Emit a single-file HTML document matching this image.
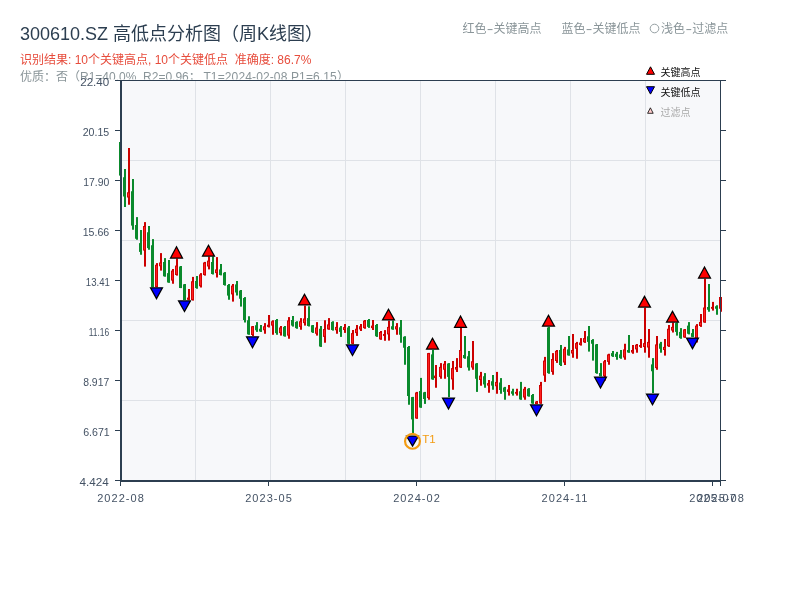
<!DOCTYPE html>
<html lang="zh"><head><meta charset="utf-8"><title>300610.SZ 高低点分析图</title>
<style>html,body{margin:0;padding:0;background:#fff;}body{width:800px;height:600px;overflow:hidden;}svg{display:block;will-change:transform;}text{font-family:"Liberation Sans","Noto Sans CJK SC",sans-serif;}</style></head><body>
<svg width="800" height="600" viewBox="0 0 800 600">
<rect width="800" height="600" fill="#ffffff"/>
<text x="20" y="40" font-size="18" fill="#2c3e50">300610.SZ 高低点分析图（周K线图）</text>
<text x="20" y="63.5" font-size="12" fill="#e74c3c" style="white-space:pre">识别结果: 10个关键高点, 10个关键低点  准确度: 86.7%</text>
<text x="20" y="80.8" font-size="12" fill="#8a9599" style="white-space:pre"><tspan x="20">优质：否（R1=40.0%  R2=0.96；</tspan><tspan x="203.4" letter-spacing="0.13">T1=2024-02-08 P1=6.15）</tspan></text>
<g font-size="12" fill="#8a9599"><text y="33"><tspan x="462.4">红色</tspan><tspan x="486.8" textLength="6.6" lengthAdjust="spacingAndGlyphs">-</tspan><tspan x="493.6">关键高点</tspan></text><text y="33"><tspan x="561.4">蓝色</tspan><tspan x="585.8" textLength="6.6" lengthAdjust="spacingAndGlyphs">-</tspan><tspan x="592.6">关键低点</tspan></text><text y="33"><tspan x="661">浅色</tspan><tspan x="685.4" textLength="6.6" lengthAdjust="spacingAndGlyphs">-</tspan><tspan x="692.2">过滤点</tspan></text></g>
<circle cx="654.5" cy="28.5" r="4.3" fill="none" stroke="#8a9599" stroke-width="0.9"/>
<rect x="80" y="79.4" width="720" height="520.6" fill="#ffffff"/>
<rect x="121" y="81" width="600" height="400" fill="#f7f8fa"/>
<rect x="195" y="81" width="1" height="400" fill="#dfe2e7"/>
<rect x="270" y="81" width="1" height="400" fill="#dfe2e7"/>
<rect x="345" y="81" width="1" height="400" fill="#dfe2e7"/>
<rect x="420" y="81" width="1" height="400" fill="#dfe2e7"/>
<rect x="495" y="81" width="1" height="400" fill="#dfe2e7"/>
<rect x="570" y="81" width="1" height="400" fill="#dfe2e7"/>
<rect x="645" y="81" width="1" height="400" fill="#dfe2e7"/>
<rect x="121" y="160" width="600" height="1" fill="#dfe2e7"/>
<rect x="121" y="240" width="600" height="1" fill="#dfe2e7"/>
<rect x="121" y="320" width="600" height="1" fill="#dfe2e7"/>
<rect x="121" y="400" width="600" height="1" fill="#dfe2e7"/>
<rect x="120.0" y="142.00" width="2" height="33.60" fill="#0a8a2c"/><rect x="119.0" y="142.00" width="3" height="33.60" fill="#0a8a2c"/>
<g shape-rendering="auto">
<rect x="124.0" y="169.00" width="2" height="38.00" fill="#0a8a2c"/><rect x="123.0" y="177.25" width="3" height="19.25" fill="#0a8a2c"/>
<rect x="128.0" y="148.00" width="2" height="56.75" fill="#cc0000"/><rect x="127.0" y="192.25" width="3" height="5.25" fill="#cc0000"/><rect x="127.9" y="193.25" width="1.2" height="3.25" fill="#ff2020"/>
<rect x="132.0" y="179.00" width="2" height="50.75" fill="#0a8a2c"/><rect x="131.0" y="191.25" width="3" height="34.35" fill="#0a8a2c"/>
<rect x="136.0" y="217.10" width="2" height="22.65" fill="#0a8a2c"/><rect x="135.0" y="225.00" width="3" height="13.75" fill="#0a8a2c"/>
<rect x="140.0" y="230.00" width="2" height="24.75" fill="#0a8a2c"/><rect x="139.0" y="243.10" width="3" height="8.80" fill="#0a8a2c"/>
<rect x="144.0" y="222.10" width="2" height="44.50" fill="#cc0000"/><rect x="143.0" y="226.00" width="3" height="24.60" fill="#cc0000"/><rect x="143.9" y="227.00" width="1.2" height="22.60" fill="#ff2020"/>
<rect x="148.0" y="226.00" width="2" height="23.75" fill="#0a8a2c"/><rect x="147.0" y="232.25" width="3" height="15.85" fill="#0a8a2c"/>
<rect x="152.0" y="239.10" width="2" height="48.15" fill="#0a8a2c"/><rect x="151.0" y="245.25" width="3" height="41.75" fill="#0a8a2c"/>
<rect x="156.0" y="263.10" width="2" height="24.15" fill="#cc0000"/><rect x="155.0" y="264.75" width="3" height="22.25" fill="#cc0000"/><rect x="155.9" y="265.75" width="1.2" height="20.25" fill="#ff2020"/>
<rect x="160.0" y="253.10" width="2" height="17.50" fill="#cc0000"/><rect x="159.0" y="262.50" width="3" height="3.75" fill="#cc0000"/><rect x="159.9" y="263.50" width="1.2" height="1.75" fill="#ff2020"/>
<rect x="164.0" y="258.10" width="2" height="18.50" fill="#0a8a2c"/><rect x="163.0" y="262.00" width="3" height="14.30" fill="#0a8a2c"/>
<rect x="168.0" y="260.00" width="2" height="22.75" fill="#0a8a2c"/><rect x="167.0" y="273.10" width="3" height="9.40" fill="#0a8a2c"/>
<rect x="172.0" y="269.00" width="2" height="14.75" fill="#cc0000"/><rect x="171.0" y="270.60" width="3" height="10.00" fill="#cc0000"/><rect x="171.9" y="271.60" width="1.2" height="8.00" fill="#ff2020"/>
<rect x="176.0" y="258.50" width="2" height="17.10" fill="#cc0000"/><rect x="175.0" y="265.60" width="3" height="9.40" fill="#cc0000"/><rect x="175.9" y="266.60" width="1.2" height="7.40" fill="#ff2020"/>
<rect x="180.0" y="266.00" width="2" height="22.10" fill="#0a8a2c"/><rect x="179.0" y="266.50" width="3" height="21.50" fill="#0a8a2c"/>
<rect x="184.0" y="284.00" width="2" height="16.00" fill="#0a8a2c"/><rect x="183.0" y="284.30" width="3" height="15.70" fill="#0a8a2c"/>
<rect x="188.0" y="289.00" width="2" height="11.20" fill="#cc0000"/><rect x="187.0" y="297.60" width="3" height="2.20" fill="#cc0000"/>
<rect x="192.0" y="276.90" width="2" height="23.70" fill="#cc0000"/><rect x="191.0" y="281.25" width="3" height="18.75" fill="#cc0000"/><rect x="191.9" y="282.25" width="1.2" height="16.75" fill="#ff2020"/>
<rect x="196.0" y="276.00" width="2" height="12.75" fill="#0a8a2c"/><rect x="195.0" y="281.00" width="3" height="7.00" fill="#0a8a2c"/>
<rect x="200.0" y="273.10" width="2" height="14.40" fill="#cc0000"/><rect x="199.0" y="274.40" width="3" height="11.85" fill="#cc0000"/><rect x="199.9" y="275.40" width="1.2" height="9.85" fill="#ff2020"/>
<rect x="204.0" y="261.90" width="2" height="13.70" fill="#cc0000"/><rect x="203.0" y="262.50" width="3" height="12.50" fill="#cc0000"/><rect x="203.9" y="263.50" width="1.2" height="10.50" fill="#ff2020"/>
<rect x="208.0" y="256.50" width="2" height="12.90" fill="#cc0000"/><rect x="207.0" y="260.60" width="3" height="5.90" fill="#cc0000"/><rect x="207.9" y="261.60" width="1.2" height="3.90" fill="#ff2020"/>
<rect x="212.0" y="256.50" width="2" height="18.00" fill="#0a8a2c"/><rect x="211.0" y="262.00" width="3" height="12.00" fill="#0a8a2c"/>
<rect x="216.0" y="257.10" width="2" height="20.40" fill="#cc0000"/><rect x="215.0" y="269.40" width="3" height="3.70" fill="#cc0000"/><rect x="215.9" y="270.40" width="1.2" height="1.70" fill="#ff2020"/>
<rect x="220.0" y="264.00" width="2" height="11.40" fill="#0a8a2c"/><rect x="219.0" y="269.40" width="3" height="5.60" fill="#0a8a2c"/>
<rect x="224.0" y="272.10" width="2" height="13.50" fill="#0a8a2c"/><rect x="223.0" y="272.75" width="3" height="12.25" fill="#0a8a2c"/>
<rect x="228.0" y="284.00" width="2" height="15.75" fill="#0a8a2c"/><rect x="227.0" y="285.00" width="3" height="10.60" fill="#0a8a2c"/>
<rect x="232.0" y="284.00" width="2" height="17.60" fill="#cc0000"/><rect x="231.0" y="285.60" width="3" height="8.80" fill="#cc0000"/><rect x="231.9" y="286.60" width="1.2" height="6.80" fill="#ff2020"/>
<rect x="236.0" y="281.00" width="2" height="14.50" fill="#0a8a2c"/><rect x="235.0" y="284.40" width="3" height="8.10" fill="#0a8a2c"/>
<rect x="240.0" y="290.00" width="2" height="16.60" fill="#0a8a2c"/><rect x="239.0" y="290.60" width="3" height="8.15" fill="#0a8a2c"/>
<rect x="244.0" y="297.10" width="2" height="25.40" fill="#0a8a2c"/><rect x="243.0" y="298.00" width="3" height="22.00" fill="#0a8a2c"/>
<rect x="248.0" y="316.25" width="2" height="18.50" fill="#0a8a2c"/><rect x="247.0" y="320.25" width="3" height="14.15" fill="#0a8a2c"/>
<rect x="252.0" y="326.00" width="2" height="10.00" fill="#cc0000"/><rect x="251.0" y="326.25" width="3" height="8.75" fill="#cc0000"/><rect x="251.9" y="327.25" width="1.2" height="6.75" fill="#ff2020"/>
<rect x="256.0" y="322.10" width="2" height="9.80" fill="#0a8a2c"/><rect x="255.0" y="325.25" width="3" height="5.00" fill="#0a8a2c"/>
<rect x="260.0" y="325.00" width="2" height="6.90" fill="#0a8a2c"/><rect x="259.0" y="328.75" width="3" height="2.75" fill="#0a8a2c"/>
<rect x="264.0" y="323.10" width="2" height="10.65" fill="#cc0000"/><rect x="263.0" y="326.25" width="3" height="4.00" fill="#cc0000"/><rect x="263.9" y="327.25" width="1.2" height="2.00" fill="#ff2020"/>
<rect x="268.0" y="315.00" width="2" height="12.50" fill="#cc0000"/><rect x="267.0" y="324.75" width="3" height="2.15" fill="#cc0000"/>
<rect x="272.0" y="320.25" width="2" height="14.50" fill="#cc0000"/><rect x="271.0" y="321.25" width="3" height="4.35" fill="#cc0000"/><rect x="271.9" y="322.25" width="1.2" height="2.35" fill="#ff2020"/>
<rect x="276.0" y="319.00" width="2" height="15.75" fill="#0a8a2c"/><rect x="275.0" y="320.00" width="3" height="13.10" fill="#0a8a2c"/>
<rect x="280.0" y="326.00" width="2" height="9.60" fill="#cc0000"/><rect x="279.0" y="327.50" width="3" height="5.60" fill="#cc0000"/><rect x="279.9" y="328.50" width="1.2" height="3.60" fill="#ff2020"/>
<rect x="284.0" y="326.00" width="2" height="10.60" fill="#0a8a2c"/><rect x="283.0" y="326.90" width="3" height="9.35" fill="#0a8a2c"/>
<rect x="288.0" y="317.10" width="2" height="21.65" fill="#cc0000"/><rect x="287.0" y="320.40" width="3" height="15.20" fill="#cc0000"/><rect x="287.9" y="321.40" width="1.2" height="13.20" fill="#ff2020"/>
<rect x="292.0" y="316.00" width="2" height="10.60" fill="#0a8a2c"/><rect x="291.0" y="320.00" width="3" height="5.60" fill="#0a8a2c"/>
<rect x="296.0" y="321.25" width="2" height="7.50" fill="#0a8a2c"/><rect x="295.0" y="321.90" width="3" height="6.20" fill="#0a8a2c"/>
<rect x="300.0" y="318.10" width="2" height="11.65" fill="#cc0000"/><rect x="299.0" y="321.25" width="3" height="5.65" fill="#cc0000"/><rect x="299.9" y="322.25" width="1.2" height="3.65" fill="#ff2020"/>
<rect x="304.0" y="305.60" width="2" height="20.00" fill="#cc0000"/><rect x="303.0" y="318.50" width="3" height="4.60" fill="#cc0000"/><rect x="303.9" y="319.50" width="1.2" height="2.60" fill="#ff2020"/>
<rect x="308.0" y="306.25" width="2" height="20.25" fill="#0a8a2c"/><rect x="307.0" y="318.10" width="3" height="7.90" fill="#0a8a2c"/>
<rect x="312.0" y="325.00" width="2" height="7.90" fill="#0a8a2c"/><rect x="311.0" y="325.25" width="3" height="7.00" fill="#0a8a2c"/>
<rect x="316.0" y="322.10" width="2" height="13.50" fill="#cc0000"/><rect x="315.0" y="327.50" width="3" height="6.25" fill="#cc0000"/><rect x="315.9" y="328.50" width="1.2" height="4.25" fill="#ff2020"/>
<rect x="320.0" y="326.00" width="2" height="20.90" fill="#0a8a2c"/><rect x="319.0" y="328.75" width="3" height="17.75" fill="#0a8a2c"/>
<rect x="324.0" y="320.25" width="2" height="22.50" fill="#cc0000"/><rect x="323.0" y="329.00" width="3" height="7.90" fill="#cc0000"/><rect x="323.9" y="330.00" width="1.2" height="5.90" fill="#ff2020"/>
<rect x="328.0" y="318.10" width="2" height="11.65" fill="#cc0000"/><rect x="327.0" y="324.40" width="3" height="5.00" fill="#cc0000"/><rect x="327.9" y="325.40" width="1.2" height="3.00" fill="#ff2020"/>
<rect x="332.0" y="321.25" width="2" height="9.35" fill="#0a8a2c"/><rect x="331.0" y="321.90" width="3" height="8.10" fill="#0a8a2c"/>
<rect x="336.0" y="322.10" width="2" height="11.65" fill="#cc0000"/><rect x="335.0" y="326.90" width="3" height="3.35" fill="#cc0000"/><rect x="335.9" y="327.90" width="1.2" height="1.35" fill="#ff2020"/>
<rect x="340.0" y="326.00" width="2" height="10.90" fill="#0a8a2c"/><rect x="339.0" y="327.50" width="3" height="4.40" fill="#0a8a2c"/>
<rect x="344.0" y="324.00" width="2" height="8.90" fill="#cc0000"/><rect x="343.0" y="327.10" width="3" height="2.90" fill="#cc0000"/><rect x="343.9" y="328.10" width="1.2" height="0.90" fill="#ff2020"/>
<rect x="348.0" y="326.00" width="2" height="18.00" fill="#0a8a2c"/><rect x="347.0" y="327.50" width="3" height="16.25" fill="#0a8a2c"/>
<rect x="352.0" y="330.00" width="2" height="14.00" fill="#cc0000"/><rect x="351.0" y="333.10" width="3" height="10.65" fill="#cc0000"/><rect x="351.9" y="334.10" width="1.2" height="8.65" fill="#ff2020"/>
<rect x="356.0" y="325.00" width="2" height="10.90" fill="#cc0000"/><rect x="355.0" y="328.75" width="3" height="4.35" fill="#cc0000"/><rect x="355.9" y="329.75" width="1.2" height="2.35" fill="#ff2020"/>
<rect x="360.0" y="324.00" width="2" height="7.00" fill="#cc0000"/><rect x="359.0" y="326.25" width="3" height="3.15" fill="#cc0000"/><rect x="359.9" y="327.25" width="1.2" height="1.15" fill="#ff2020"/>
<rect x="364.0" y="320.00" width="2" height="8.75" fill="#cc0000"/><rect x="363.0" y="320.60" width="3" height="7.50" fill="#cc0000"/><rect x="363.9" y="321.60" width="1.2" height="5.50" fill="#ff2020"/>
<rect x="368.0" y="319.00" width="2" height="8.90" fill="#0a8a2c"/><rect x="367.0" y="320.00" width="3" height="6.90" fill="#0a8a2c"/>
<rect x="372.0" y="320.00" width="2" height="10.00" fill="#cc0000"/><rect x="371.0" y="325.60" width="3" height="2.50" fill="#cc0000"/><rect x="371.9" y="326.60" width="1.2" height="0.50" fill="#ff2020"/>
<rect x="376.0" y="324.00" width="2" height="12.90" fill="#0a8a2c"/><rect x="375.0" y="325.00" width="3" height="11.25" fill="#0a8a2c"/>
<rect x="380.0" y="331.00" width="2" height="8.75" fill="#cc0000"/><rect x="379.0" y="332.00" width="3" height="7.40" fill="#cc0000"/><rect x="379.9" y="333.00" width="1.2" height="5.40" fill="#ff2020"/>
<rect x="384.0" y="330.10" width="2" height="10.65" fill="#cc0000"/><rect x="383.0" y="334.00" width="3" height="1.90" fill="#cc0000"/>
<rect x="388.0" y="320.60" width="2" height="20.00" fill="#cc0000"/><rect x="387.0" y="326.90" width="3" height="7.50" fill="#cc0000"/><rect x="387.9" y="327.90" width="1.2" height="5.50" fill="#ff2020"/>
<rect x="392.0" y="320.60" width="2" height="9.15" fill="#0a8a2c"/><rect x="391.0" y="326.25" width="3" height="3.15" fill="#0a8a2c"/>
<rect x="396.0" y="323.10" width="2" height="11.65" fill="#cc0000"/><rect x="395.0" y="326.25" width="3" height="3.15" fill="#cc0000"/><rect x="395.9" y="327.25" width="1.2" height="1.15" fill="#ff2020"/>
<rect x="400.0" y="320.00" width="2" height="22.75" fill="#0a8a2c"/><rect x="399.0" y="327.25" width="3" height="7.50" fill="#0a8a2c"/>
<rect x="404.0" y="336.25" width="2" height="28.50" fill="#0a8a2c"/><rect x="403.0" y="336.75" width="3" height="11.00" fill="#0a8a2c"/>
<rect x="408.0" y="346.00" width="2" height="58.75" fill="#0a8a2c"/><rect x="407.0" y="347.00" width="3" height="49.00" fill="#0a8a2c"/>
<rect x="412.0" y="396.90" width="2" height="37.10" fill="#0a8a2c"/><rect x="411.0" y="397.10" width="3" height="22.30" fill="#0a8a2c"/>
<rect x="416.0" y="391.90" width="2" height="26.85" fill="#cc0000"/><rect x="415.0" y="392.50" width="3" height="26.00" fill="#cc0000"/><rect x="415.9" y="393.50" width="1.2" height="24.00" fill="#ff2020"/>
<rect x="420.0" y="377.90" width="2" height="29.85" fill="#0a8a2c"/><rect x="419.0" y="391.00" width="3" height="16.50" fill="#0a8a2c"/>
<rect x="424.0" y="391.90" width="2" height="12.00" fill="#0a8a2c"/><rect x="423.0" y="392.30" width="3" height="6.70" fill="#0a8a2c"/>
<rect x="428.0" y="352.90" width="2" height="46.85" fill="#cc0000"/><rect x="427.0" y="353.10" width="3" height="45.00" fill="#cc0000"/><rect x="427.9" y="354.10" width="1.2" height="43.00" fill="#ff2020"/>
<rect x="432.0" y="350.00" width="2" height="29.75" fill="#0a8a2c"/><rect x="431.0" y="354.40" width="3" height="25.00" fill="#0a8a2c"/>
<rect x="435.0" y="365.00" width="2" height="22.75" fill="#cc0000"/><rect x="434.0" y="375.60" width="3" height="2.50" fill="#cc0000"/><rect x="434.9" y="376.60" width="1.2" height="0.50" fill="#ff2020"/>
<rect x="440.0" y="363.10" width="2" height="15.65" fill="#cc0000"/><rect x="439.0" y="366.90" width="3" height="10.00" fill="#cc0000"/><rect x="439.9" y="367.90" width="1.2" height="8.00" fill="#ff2020"/>
<rect x="444.0" y="361.00" width="2" height="17.75" fill="#cc0000"/><rect x="443.0" y="363.75" width="3" height="6.00" fill="#cc0000"/><rect x="443.9" y="364.75" width="1.2" height="4.00" fill="#ff2020"/>
<rect x="448.0" y="363.10" width="2" height="34.00" fill="#0a8a2c"/><rect x="447.0" y="363.50" width="3" height="13.40" fill="#0a8a2c"/>
<rect x="452.0" y="361.00" width="2" height="28.75" fill="#cc0000"/><rect x="451.0" y="368.10" width="3" height="11.30" fill="#cc0000"/><rect x="451.9" y="369.10" width="1.2" height="9.30" fill="#ff2020"/>
<rect x="456.0" y="358.10" width="2" height="13.90" fill="#cc0000"/><rect x="455.0" y="367.00" width="3" height="2.60" fill="#cc0000"/><rect x="455.9" y="368.00" width="1.2" height="0.60" fill="#ff2020"/>
<rect x="460.0" y="327.75" width="2" height="40.15" fill="#cc0000"/><rect x="459.0" y="350.00" width="3" height="17.50" fill="#cc0000"/><rect x="459.9" y="351.00" width="1.2" height="15.50" fill="#ff2020"/>
<rect x="464.0" y="336.00" width="2" height="22.75" fill="#0a8a2c"/><rect x="463.0" y="355.00" width="3" height="3.10" fill="#0a8a2c"/>
<rect x="468.0" y="351.00" width="2" height="19.60" fill="#0a8a2c"/><rect x="467.0" y="356.25" width="3" height="11.25" fill="#0a8a2c"/>
<rect x="472.0" y="341.00" width="2" height="28.75" fill="#cc0000"/><rect x="471.0" y="361.25" width="3" height="6.25" fill="#cc0000"/><rect x="471.9" y="362.25" width="1.2" height="4.25" fill="#ff2020"/>
<rect x="476.0" y="363.10" width="2" height="28.80" fill="#0a8a2c"/><rect x="475.0" y="363.50" width="3" height="15.25" fill="#0a8a2c"/>
<rect x="480.0" y="371.90" width="2" height="13.85" fill="#cc0000"/><rect x="479.0" y="375.60" width="3" height="4.40" fill="#cc0000"/><rect x="479.9" y="376.60" width="1.2" height="2.40" fill="#ff2020"/>
<rect x="484.0" y="373.10" width="2" height="14.65" fill="#0a8a2c"/><rect x="483.0" y="376.25" width="3" height="8.15" fill="#0a8a2c"/>
<rect x="488.0" y="380.00" width="2" height="12.75" fill="#cc0000"/><rect x="487.0" y="383.10" width="3" height="2.50" fill="#cc0000"/><rect x="487.9" y="384.10" width="1.2" height="0.50" fill="#ff2020"/>
<rect x="492.0" y="375.00" width="2" height="14.75" fill="#0a8a2c"/><rect x="491.0" y="381.25" width="3" height="4.35" fill="#0a8a2c"/>
<rect x="496.0" y="371.90" width="2" height="21.85" fill="#cc0000"/><rect x="495.0" y="381.90" width="3" height="4.35" fill="#cc0000"/><rect x="495.9" y="382.90" width="1.2" height="2.35" fill="#ff2020"/>
<rect x="500.0" y="378.10" width="2" height="15.65" fill="#0a8a2c"/><rect x="499.0" y="382.50" width="3" height="7.50" fill="#0a8a2c"/>
<rect x="504.0" y="386.90" width="2" height="12.85" fill="#0a8a2c"/><rect x="503.0" y="387.50" width="3" height="4.40" fill="#0a8a2c"/>
<rect x="508.0" y="385.00" width="2" height="10.60" fill="#cc0000"/><rect x="507.0" y="389.40" width="3" height="2.50" fill="#cc0000"/><rect x="507.9" y="390.40" width="1.2" height="0.50" fill="#ff2020"/>
<rect x="512.0" y="388.75" width="2" height="6.85" fill="#0a8a2c"/><rect x="511.0" y="391.25" width="3" height="2.50" fill="#0a8a2c"/>
<rect x="516.0" y="388.75" width="2" height="6.85" fill="#cc0000"/><rect x="515.0" y="391.90" width="3" height="1.85" fill="#cc0000"/>
<rect x="520.0" y="381.90" width="2" height="17.85" fill="#0a8a2c"/><rect x="519.0" y="391.25" width="3" height="8.15" fill="#0a8a2c"/>
<rect x="524.0" y="386.90" width="2" height="12.85" fill="#cc0000"/><rect x="523.0" y="388.75" width="3" height="8.75" fill="#cc0000"/><rect x="523.9" y="389.75" width="1.2" height="6.75" fill="#ff2020"/>
<rect x="528.0" y="388.10" width="2" height="8.50" fill="#0a8a2c"/><rect x="527.0" y="388.75" width="3" height="7.50" fill="#0a8a2c"/>
<rect x="532.0" y="394.00" width="2" height="9.75" fill="#0a8a2c"/><rect x="531.0" y="395.00" width="3" height="8.50" fill="#0a8a2c"/>
<rect x="536.0" y="401.00" width="2" height="3.00" fill="#cc0000"/><rect x="535.0" y="401.50" width="3" height="2.50" fill="#cc0000"/><rect x="535.9" y="402.50" width="1.2" height="0.50" fill="#ff2020"/>
<rect x="540.0" y="381.90" width="2" height="21.85" fill="#cc0000"/><rect x="539.0" y="385.00" width="3" height="18.50" fill="#cc0000"/><rect x="539.9" y="386.00" width="1.2" height="16.50" fill="#ff2020"/>
<rect x="544.0" y="356.90" width="2" height="25.00" fill="#cc0000"/><rect x="543.0" y="360.60" width="3" height="15.00" fill="#cc0000"/><rect x="543.9" y="361.60" width="1.2" height="13.00" fill="#ff2020"/>
<rect x="548.0" y="326.90" width="2" height="46.85" fill="#0a8a2c"/><rect x="547.0" y="327.50" width="3" height="45.60" fill="#0a8a2c"/>
<rect x="552.0" y="353.10" width="2" height="21.65" fill="#cc0000"/><rect x="551.0" y="359.00" width="3" height="12.90" fill="#cc0000"/><rect x="551.9" y="360.00" width="1.2" height="10.90" fill="#ff2020"/>
<rect x="556.0" y="350.00" width="2" height="12.90" fill="#cc0000"/><rect x="555.0" y="350.80" width="3" height="10.20" fill="#cc0000"/><rect x="555.9" y="351.80" width="1.2" height="8.20" fill="#ff2020"/>
<rect x="560.0" y="345.00" width="2" height="21.00" fill="#0a8a2c"/><rect x="559.0" y="350.00" width="3" height="15.00" fill="#0a8a2c"/>
<rect x="564.0" y="346.90" width="2" height="18.10" fill="#cc0000"/><rect x="563.0" y="348.75" width="3" height="13.75" fill="#cc0000"/><rect x="563.9" y="349.75" width="1.2" height="11.75" fill="#ff2020"/>
<rect x="568.0" y="336.00" width="2" height="19.60" fill="#0a8a2c"/><rect x="567.0" y="349.40" width="3" height="6.00" fill="#0a8a2c"/>
<rect x="572.0" y="334.00" width="2" height="23.75" fill="#cc0000"/><rect x="571.0" y="350.00" width="3" height="3.50" fill="#cc0000"/><rect x="571.9" y="351.00" width="1.2" height="1.50" fill="#ff2020"/>
<rect x="576.0" y="341.90" width="2" height="16.85" fill="#cc0000"/><rect x="575.0" y="343.10" width="3" height="5.65" fill="#cc0000"/><rect x="575.9" y="344.10" width="1.2" height="3.65" fill="#ff2020"/>
<rect x="580.0" y="338.10" width="2" height="7.50" fill="#cc0000"/><rect x="579.0" y="342.50" width="3" height="2.50" fill="#cc0000"/><rect x="579.9" y="343.50" width="1.2" height="0.50" fill="#ff2020"/>
<rect x="584.0" y="331.00" width="2" height="11.90" fill="#cc0000"/><rect x="583.0" y="338.10" width="3" height="4.15" fill="#cc0000"/><rect x="583.9" y="339.10" width="1.2" height="2.15" fill="#ff2020"/>
<rect x="588.0" y="326.00" width="2" height="25.60" fill="#0a8a2c"/><rect x="587.0" y="336.25" width="3" height="5.65" fill="#0a8a2c"/>
<rect x="592.0" y="339.10" width="2" height="21.50" fill="#0a8a2c"/><rect x="591.0" y="340.00" width="3" height="3.75" fill="#0a8a2c"/>
<rect x="596.0" y="344.00" width="2" height="29.75" fill="#0a8a2c"/><rect x="595.0" y="344.40" width="3" height="28.70" fill="#0a8a2c"/>
<rect x="600.0" y="363.10" width="2" height="13.15" fill="#0a8a2c"/><rect x="599.0" y="373.00" width="3" height="3.20" fill="#0a8a2c"/>
<rect x="604.0" y="360.00" width="2" height="20.60" fill="#cc0000"/><rect x="603.0" y="361.25" width="3" height="15.00" fill="#cc0000"/><rect x="603.9" y="362.25" width="1.2" height="13.00" fill="#ff2020"/>
<rect x="608.0" y="353.75" width="2" height="11.00" fill="#cc0000"/><rect x="607.0" y="354.40" width="3" height="7.50" fill="#cc0000"/><rect x="607.9" y="355.40" width="1.2" height="5.50" fill="#ff2020"/>
<rect x="612.0" y="351.00" width="2" height="5.90" fill="#0a8a2c"/><rect x="611.0" y="353.10" width="3" height="3.15" fill="#0a8a2c"/>
<rect x="616.0" y="351.90" width="2" height="7.85" fill="#0a8a2c"/><rect x="615.0" y="353.75" width="3" height="3.15" fill="#0a8a2c"/>
<rect x="620.0" y="350.00" width="2" height="8.75" fill="#0a8a2c"/><rect x="619.0" y="354.40" width="3" height="3.70" fill="#0a8a2c"/>
<rect x="624.0" y="343.75" width="2" height="16.00" fill="#cc0000"/><rect x="623.0" y="349.40" width="3" height="8.10" fill="#cc0000"/><rect x="623.9" y="350.40" width="1.2" height="6.10" fill="#ff2020"/>
<rect x="628.0" y="335.00" width="2" height="17.75" fill="#0a8a2c"/><rect x="627.0" y="350.00" width="3" height="2.50" fill="#0a8a2c"/>
<rect x="632.0" y="345.00" width="2" height="8.75" fill="#cc0000"/><rect x="631.0" y="350.00" width="3" height="2.50" fill="#cc0000"/><rect x="631.9" y="351.00" width="1.2" height="0.50" fill="#ff2020"/>
<rect x="636.0" y="344.00" width="2" height="8.70" fill="#cc0000"/><rect x="635.0" y="344.70" width="3" height="4.70" fill="#cc0000"/><rect x="635.9" y="345.70" width="1.2" height="2.70" fill="#ff2020"/>
<rect x="640.0" y="339.00" width="2" height="8.90" fill="#cc0000"/><rect x="639.0" y="345.00" width="3" height="1.90" fill="#cc0000"/>
<rect x="644.0" y="307.75" width="2" height="44.95" fill="#cc0000"/><rect x="643.0" y="343.10" width="3" height="3.90" fill="#cc0000"/><rect x="643.9" y="344.10" width="1.2" height="1.90" fill="#ff2020"/>
<rect x="648.0" y="329.00" width="2" height="28.70" fill="#cc0000"/><rect x="647.0" y="341.90" width="3" height="5.60" fill="#cc0000"/><rect x="647.9" y="342.90" width="1.2" height="3.60" fill="#ff2020"/>
<rect x="652.0" y="358.10" width="2" height="35.00" fill="#0a8a2c"/><rect x="651.0" y="364.40" width="3" height="6.85" fill="#0a8a2c"/>
<rect x="656.0" y="336.00" width="2" height="33.75" fill="#cc0000"/><rect x="655.0" y="344.40" width="3" height="23.70" fill="#cc0000"/><rect x="655.9" y="345.40" width="1.2" height="21.70" fill="#ff2020"/>
<rect x="660.0" y="341.90" width="2" height="10.80" fill="#0a8a2c"/><rect x="659.0" y="343.50" width="3" height="5.25" fill="#0a8a2c"/>
<rect x="664.0" y="339.00" width="2" height="16.60" fill="#cc0000"/><rect x="663.0" y="346.90" width="3" height="3.10" fill="#cc0000"/><rect x="663.9" y="347.90" width="1.2" height="1.10" fill="#ff2020"/>
<rect x="668.0" y="325.00" width="2" height="21.90" fill="#cc0000"/><rect x="667.0" y="328.75" width="3" height="17.50" fill="#cc0000"/><rect x="667.9" y="329.75" width="1.2" height="15.50" fill="#ff2020"/>
<rect x="672.0" y="322.50" width="2" height="10.00" fill="#cc0000"/><rect x="671.0" y="326.90" width="3" height="3.70" fill="#cc0000"/><rect x="671.9" y="327.90" width="1.2" height="1.70" fill="#ff2020"/>
<rect x="676.0" y="322.50" width="2" height="13.10" fill="#0a8a2c"/><rect x="675.0" y="323.10" width="3" height="8.80" fill="#0a8a2c"/>
<rect x="680.0" y="328.10" width="2" height="10.65" fill="#0a8a2c"/><rect x="679.0" y="331.90" width="3" height="6.20" fill="#0a8a2c"/>
<rect x="684.0" y="329.00" width="2" height="8.75" fill="#cc0000"/><rect x="683.0" y="329.40" width="3" height="8.10" fill="#cc0000"/><rect x="683.9" y="330.40" width="1.2" height="6.10" fill="#ff2020"/>
<rect x="688.0" y="322.10" width="2" height="12.30" fill="#0a8a2c"/><rect x="687.0" y="325.60" width="3" height="8.15" fill="#0a8a2c"/>
<rect x="692.0" y="329.00" width="2" height="7.90" fill="#0a8a2c"/><rect x="691.0" y="333.10" width="3" height="3.80" fill="#0a8a2c"/>
<rect x="696.0" y="324.10" width="2" height="18.40" fill="#cc0000"/><rect x="695.0" y="325.60" width="3" height="16.30" fill="#cc0000"/><rect x="695.9" y="326.60" width="1.2" height="14.30" fill="#ff2020"/>
<rect x="700.0" y="314.00" width="2" height="12.90" fill="#cc0000"/><rect x="699.0" y="321.90" width="3" height="4.10" fill="#cc0000"/><rect x="699.9" y="322.90" width="1.2" height="2.10" fill="#ff2020"/>
<rect x="704.0" y="278.75" width="2" height="43.95" fill="#cc0000"/><rect x="703.0" y="307.50" width="3" height="15.00" fill="#cc0000"/><rect x="703.9" y="308.50" width="1.2" height="13.00" fill="#ff2020"/>
<rect x="708.0" y="284.00" width="2" height="27.75" fill="#0a8a2c"/><rect x="707.0" y="307.00" width="3" height="2.75" fill="#0a8a2c"/>
<rect x="712.0" y="301.90" width="2" height="8.70" fill="#cc0000"/><rect x="711.0" y="306.90" width="3" height="1.85" fill="#cc0000"/>
<rect x="716.0" y="305.25" width="2" height="9.50" fill="#0a8a2c"/><rect x="715.0" y="306.25" width="3" height="2.50" fill="#0a8a2c"/>
<rect x="720.0" y="297.00" width="2" height="14.75" fill="#cc0000"/><rect x="719.0" y="297.00" width="3" height="11.75" fill="#cc0000"/><rect x="719.9" y="298.00" width="1.2" height="9.75" fill="#ff2020"/>
</g>
<rect x="120" y="80" width="2" height="402" fill="#2c3e50"/>
<rect x="120" y="480" width="601" height="2" fill="#2c3e50"/>
<rect x="115" y="80" width="611" height="1" fill="#2c3e50"/>
<rect x="720" y="80" width="1" height="402" fill="#2c3e50"/>
<rect x="115" y="130" width="6" height="1" fill="#2c3e50"/>
<rect x="721" y="130" width="5" height="1" fill="#2c3e50"/>
<rect x="115" y="180" width="6" height="1" fill="#2c3e50"/>
<rect x="721" y="180" width="5" height="1" fill="#2c3e50"/>
<rect x="115" y="230" width="6" height="1" fill="#2c3e50"/>
<rect x="721" y="230" width="5" height="1" fill="#2c3e50"/>
<rect x="115" y="280" width="6" height="1" fill="#2c3e50"/>
<rect x="721" y="280" width="5" height="1" fill="#2c3e50"/>
<rect x="115" y="330" width="6" height="1" fill="#2c3e50"/>
<rect x="721" y="330" width="5" height="1" fill="#2c3e50"/>
<rect x="115" y="380" width="6" height="1" fill="#2c3e50"/>
<rect x="721" y="380" width="5" height="1" fill="#2c3e50"/>
<rect x="115" y="430" width="6" height="1" fill="#2c3e50"/>
<rect x="721" y="430" width="5" height="1" fill="#2c3e50"/>
<rect x="115" y="480" width="6" height="1" fill="#2c3e50"/>
<rect x="721" y="480" width="5" height="1" fill="#2c3e50"/>
<rect x="120" y="481" width="1" height="5" fill="#2c3e50"/>
<rect x="268" y="481" width="1" height="5" fill="#2c3e50"/>
<rect x="416" y="481" width="1" height="5" fill="#2c3e50"/>
<rect x="564" y="481" width="1" height="5" fill="#2c3e50"/>
<rect x="712" y="481" width="1" height="5" fill="#2c3e50"/>
<rect x="720" y="481" width="1" height="5" fill="#2c3e50"/>
<g font-size="11" fill="#445264" text-anchor="end">
<text x="109.2" y="85.9" textLength="29" lengthAdjust="spacingAndGlyphs">22.40</text>
<text x="109.2" y="135.9" textLength="26.5" lengthAdjust="spacingAndGlyphs">20.15</text>
<text x="109.2" y="185.9" textLength="26" lengthAdjust="spacingAndGlyphs">17.90</text>
<text x="109.2" y="235.9" textLength="26.5" lengthAdjust="spacingAndGlyphs">15.66</text>
<text x="109.8" y="285.9" textLength="24" lengthAdjust="spacingAndGlyphs">13.41</text>
<text x="109.2" y="335.9" textLength="20.5" lengthAdjust="spacingAndGlyphs">11.16</text>
<text x="109.2" y="385.9" textLength="26" lengthAdjust="spacingAndGlyphs">8.917</text>
<text x="109.8" y="435.9" textLength="26.6" lengthAdjust="spacingAndGlyphs">6.671</text>
<text x="108.7" y="485.9" textLength="29.3" lengthAdjust="spacingAndGlyphs">4.424</text>
</g>
<g font-size="11" fill="#445264" text-anchor="middle">
<text x="121.0" y="502" letter-spacing="1.05">2022-08</text>
<text x="269.0" y="502" letter-spacing="1.05">2023-05</text>
<text x="417.0" y="502" letter-spacing="1.05">2024-02</text>
<text x="565.0" y="502" letter-spacing="1.05">2024-11</text>
<text x="713.0" y="502" letter-spacing="1.05">2025-07</text>
<text x="721.0" y="502" letter-spacing="1.05">2025-08</text>
</g>
<path d="M176.50 246.80L182.45 258.00L170.55 258.00Z" fill="#ff0000" stroke="#000" stroke-width="1.25" stroke-linejoin="miter"/>
<path d="M208.50 245.20L214.45 256.00L202.55 256.00Z" fill="#ff0000" stroke="#000" stroke-width="1.25" stroke-linejoin="miter"/>
<path d="M304.50 294.30L310.45 304.90L298.55 304.90Z" fill="#ff0000" stroke="#000" stroke-width="1.25" stroke-linejoin="miter"/>
<path d="M388.50 309.30L394.45 319.90L382.55 319.90Z" fill="#ff0000" stroke="#000" stroke-width="1.25" stroke-linejoin="miter"/>
<path d="M432.50 338.20L438.45 349.10L426.55 349.10Z" fill="#ff0000" stroke="#000" stroke-width="1.25" stroke-linejoin="miter"/>
<path d="M460.50 316.05L466.45 327.25L454.55 327.25Z" fill="#ff0000" stroke="#000" stroke-width="1.25" stroke-linejoin="miter"/>
<path d="M548.50 315.20L554.45 326.10L542.55 326.10Z" fill="#ff0000" stroke="#000" stroke-width="1.25" stroke-linejoin="miter"/>
<path d="M644.50 296.40L650.45 307.10L638.55 307.10Z" fill="#ff0000" stroke="#000" stroke-width="1.25" stroke-linejoin="miter"/>
<path d="M672.50 311.40L678.45 322.00L666.55 322.00Z" fill="#ff0000" stroke="#000" stroke-width="1.25" stroke-linejoin="miter"/>
<path d="M704.50 267.05L710.45 278.00L698.55 278.00Z" fill="#ff0000" stroke="#000" stroke-width="1.25" stroke-linejoin="miter"/>
<path d="M156.50 298.60L162.45 287.75L150.55 287.75Z" fill="#0000ff" stroke="#000" stroke-width="1.25" stroke-linejoin="miter"/>
<path d="M184.50 311.45L190.45 300.90L178.55 300.90Z" fill="#0000ff" stroke="#000" stroke-width="1.25" stroke-linejoin="miter"/>
<path d="M252.50 347.70L258.45 336.75L246.55 336.75Z" fill="#0000ff" stroke="#000" stroke-width="1.25" stroke-linejoin="miter"/>
<path d="M352.50 355.45L358.45 344.90L346.55 344.90Z" fill="#0000ff" stroke="#000" stroke-width="1.25" stroke-linejoin="miter"/>
<path d="M412.50 446.10L418.45 436.10L406.55 436.10Z" fill="#0000ff" stroke="#000" stroke-width="1.25" stroke-linejoin="miter"/>
<path d="M448.50 408.95L454.45 398.00L442.55 398.00Z" fill="#0000ff" stroke="#000" stroke-width="1.25" stroke-linejoin="miter"/>
<path d="M536.50 415.70L542.45 404.90L530.55 404.90Z" fill="#0000ff" stroke="#000" stroke-width="1.25" stroke-linejoin="miter"/>
<path d="M600.50 387.95L606.45 377.10L594.55 377.10Z" fill="#0000ff" stroke="#000" stroke-width="1.25" stroke-linejoin="miter"/>
<path d="M652.50 404.80L658.45 394.00L646.55 394.00Z" fill="#0000ff" stroke="#000" stroke-width="1.25" stroke-linejoin="miter"/>
<path d="M692.50 348.60L698.45 338.00L686.55 338.00Z" fill="#0000ff" stroke="#000" stroke-width="1.25" stroke-linejoin="miter"/>
<circle cx="412.5" cy="441.3" r="7.45" fill="none" stroke="#f39c12" stroke-width="2.2"/>
<text x="422.2" y="443.3" font-size="11.5" fill="#f39c12">T1</text>
<path d="M650.50 66.80L654.50 74.30L646.50 74.30Z" fill="#ff0000" stroke="#000" stroke-width="1.0" stroke-linejoin="miter"/>
<path d="M650.50 94.10L654.50 86.70L646.50 86.70Z" fill="#0000ff" stroke="#000" stroke-width="1.0" stroke-linejoin="miter"/>
<path d="M650.40 107.80L653.20 113.30L647.60 113.30Z" fill="#ffcccc" stroke="#000" stroke-width="0.8" stroke-linejoin="miter"/>
<g font-size="10"><text x="660.5" y="76" fill="#111">关键高点</text><text x="660.5" y="96" fill="#111">关键低点</text><text x="660.5" y="116" fill="#a9a9a9">过滤点</text></g>
</svg></body></html>
